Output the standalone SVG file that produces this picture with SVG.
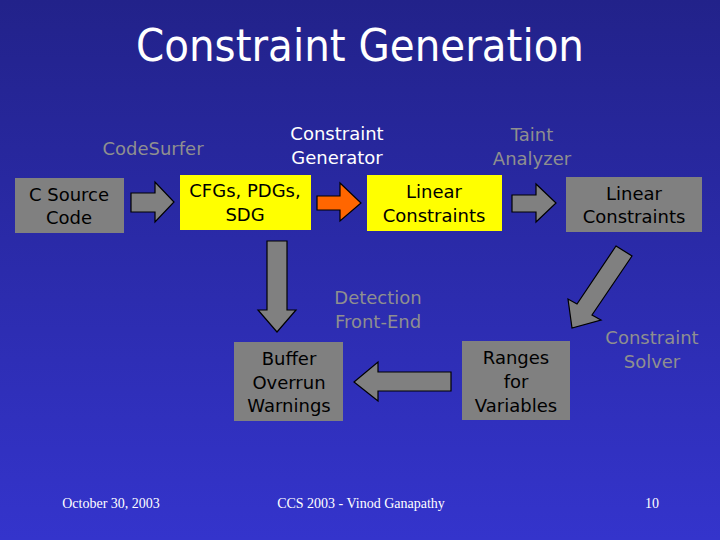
<svg xmlns="http://www.w3.org/2000/svg" width="720" height="540" viewBox="0 0 720 540">
<defs>
<linearGradient id="bg" x1="0" y1="0" x2="0" y2="1">
<stop offset="0" stop-color="#22228a"/>
<stop offset="1" stop-color="#3434cc"/>
</linearGradient>
<style>
.box{stroke:none}
.gray{fill:#808080}
.yel{fill:#ffff00}
.arrow{fill:#808080;stroke:#000;stroke-width:1.2;stroke-linejoin:miter}
.orange{fill:#ff6600}
text{font-family:"Comic Sans MS","DejaVu Sans",sans-serif;text-anchor:middle}
.t{font-size:18px;fill:#000}
.lbl{font-size:18px;fill:#8f8f8f}
.wlbl{font-size:18px;fill:#fff}
.foot{font-family:"Liberation Serif","Times New Roman",serif;font-size:14px;fill:#fff}
</style>
</defs>
<rect width="720" height="540" fill="url(#bg)"/>
<text x="360" y="61" font-size="45" fill="#fff" textLength="448" lengthAdjust="spacingAndGlyphs">Constraint Generation</text>

<g id="connectors">
<polygon class="arrow" points="131,193 155,193 155,182 174,202 155,222 155,212 131,212"/>
<polygon class="arrow orange" points="317,196 340,196 340,183 361,203 340,221 340,210 317,210"/>
<polygon class="arrow" points="512,195 536,195 536,184 556,203 536,222 536,212 512,212"/>
<polygon class="arrow" points="616,246 632,256 592,315 601,320 572,328 568,299 577,304"/>
<polygon class="arrow" points="451,372 378,372 378,362 354,382 378,401 378,391 451,391"/>
<polygon class="arrow" points="267,241 287,241 287,310 296,310 277,332 258,310 267,310"/>
</g>

<g id="csource">
<rect class="box gray" x="15" y="178" width="109" height="55"/>
<text class="t" x="69" y="201">C Source</text>
<text class="t" x="69" y="224">Code</text>
</g>
<g id="cfgs">
<rect class="box yel" x="180" y="175" width="131" height="55"/>
<text class="t" x="245" y="197">CFGs, PDGs,</text>
<text class="t" x="245" y="221">SDG</text>
</g>
<g id="linear1">
<rect class="box yel" x="367" y="175" width="135" height="56"/>
<text class="t" x="434" y="198">Linear</text>
<text class="t" x="434" y="222">Constraints</text>
</g>
<g id="linear2">
<rect class="box gray" x="566" y="177" width="136" height="55"/>
<text class="t" x="634" y="200">Linear</text>
<text class="t" x="634" y="223">Constraints</text>
</g>
<g id="ranges">
<rect class="box gray" x="462" y="341" width="108" height="79"/>
<text class="t" x="516" y="364">Ranges</text>
<text class="t" x="516" y="388">for</text>
<text class="t" x="516" y="412">Variables</text>
</g>
<g id="buffer">
<rect class="box gray" x="234" y="342" width="109" height="79"/>
<text class="t" x="289" y="365">Buffer</text>
<text class="t" x="289" y="389">Overrun</text>
<text class="t" x="289" y="412">Warnings</text>
</g>

<g id="labels">
<text class="lbl" x="153" y="155">CodeSurfer</text>
<text class="wlbl" x="337" y="140">Constraint</text>
<text class="wlbl" x="337" y="164">Generator</text>
<text class="lbl" x="532" y="141">Taint</text>
<text class="lbl" x="532" y="165">Analyzer</text>
<text class="lbl" x="378" y="304">Detection</text>
<text class="lbl" x="378" y="328">Front-End</text>
<text class="lbl" x="652" y="344">Constraint</text>
<text class="lbl" x="652" y="368">Solver</text>
</g>

<g id="footer">
<text class="foot" x="111" y="508">October 30, 2003</text>
<text class="foot" x="361" y="508">CCS 2003 - Vinod Ganapathy</text>
<text class="foot" x="652" y="508">10</text>
</g>
</svg>
